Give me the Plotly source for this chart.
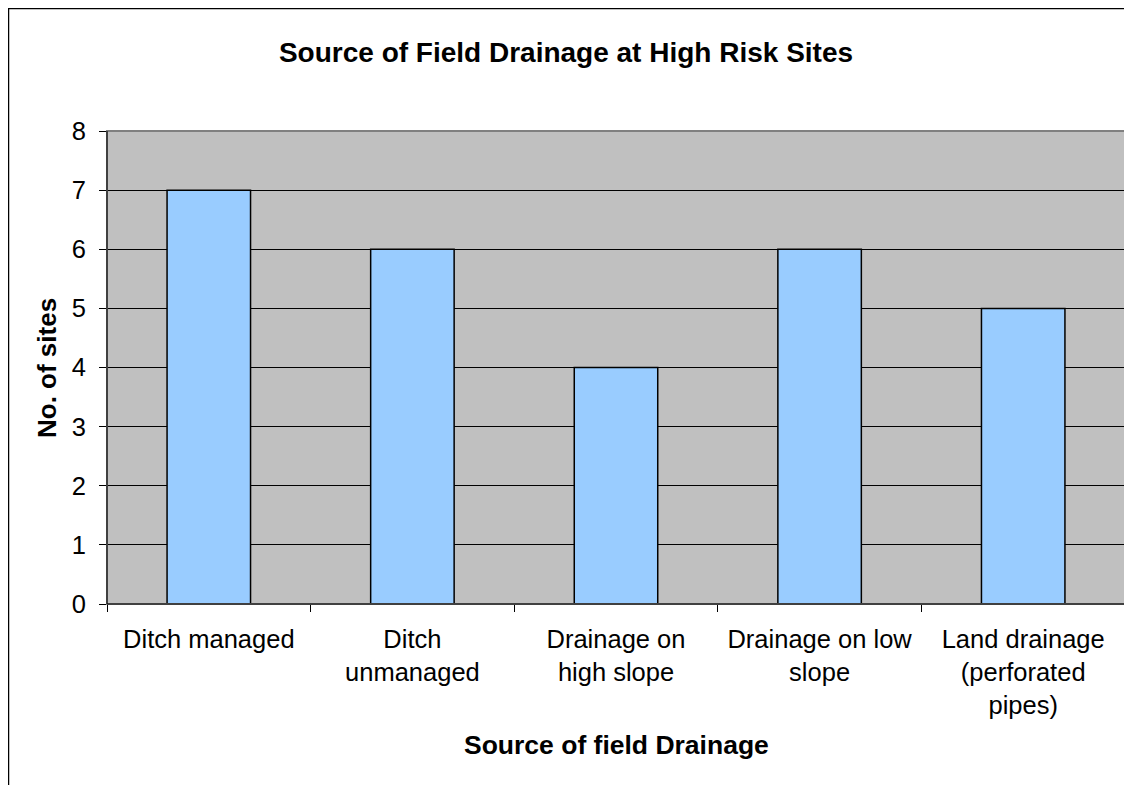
import plotly.graph_objects as go

categories = ["Ditch managed", "Ditch<br>unmanaged", "Drainage on<br>high slope",
              "Drainage on low<br>slope", "Land drainage<br>(perforated<br>pipes)"]
sites = [7, 6, 4, 6, 5]
y_ticks = [0, 1, 2, 3, 4, 5, 6, 7, 8]

OFF = 8  # page body margin
W, H = 1132 - OFF, 785 - OFF
# plot area in page pixels: left 107, right 1125, top 131, bottom 604
L, T = 107 - OFF, 131 - OFF
R = W - (1125 - OFF)
B = H - (604 - OFF)
pw, ph = W - L - R, H - T - B
FONT = "Liberation Sans, Arial, sans-serif"

def px_x(p):
    return (p - OFF - L) / pw

def px_y(p):
    return (H - B - (p - OFF)) / ph

fig = go.Figure(go.Bar(
    x=categories, y=sites, width=0.41,
    marker=dict(color="#99CCFF", line=dict(color="black", width=1.5)),
))

fig.update_layout(
    width=W, height=H,
    margin=dict(l=L, r=R, t=T, b=B),
    paper_bgcolor="white", plot_bgcolor="#C0C0C0",
    showlegend=False,
    font=dict(family=FONT, color="black", size=25.5),
    title=dict(text="<b>Source of Field Drainage at High Risk Sites</b>",
               x=(566 - OFF) / W, xref="container", xanchor="center",
               y=1 - (52 - OFF) / H, yref="container", yanchor="middle",
               font=dict(size=28, family=FONT, color="black")),
    xaxis=dict(showline=True, linecolor="black", linewidth=1,
               ticks="outside", ticklen=7, tickcolor="black", tickson="boundaries",
               showgrid=False, tickfont=dict(size=25.5), ticklabelstandoff=12),
    yaxis=dict(range=[0, 8], tickvals=y_ticks, showline=True, linecolor="black", linewidth=1,
               ticks="outside", ticklen=7, tickcolor="black",
               showgrid=True, gridcolor="black", gridwidth=1, zeroline=False,
               tickfont=dict(size=25.5), ticklabelstandoff=8),
)

fig.add_shape(type="rect", xref="paper", yref="paper", x0=0, x1=1, y0=0, y1=1,
              line=dict(color="#808080", width=2), layer="above")
fig.add_shape(type="rect", xref="paper", yref="paper",
              x0=px_x(8.5), x1=px_x(1160), y0=px_y(820), y1=px_y(8.5),
              line=dict(color="black", width=1.5), layer="above")
# black axis lines over the gray border
fig.add_shape(type="line", xref="paper", yref="paper", x0=0, x1=0, y0=0, y1=1,
              line=dict(color="black", width=1), layer="above")
fig.add_shape(type="line", xref="paper", yref="paper", x0=0, x1=1, y0=0, y1=0,
              line=dict(color="black", width=1), layer="above")

fig.add_annotation(text="<b>Source of field Drainage</b>", xref="paper", yref="paper",
                   x=px_x(616), y=px_y(745), showarrow=False, xanchor="center", yanchor="middle",
                   font=dict(size=26.5, family=FONT, color="black"))
fig.add_annotation(text="<b>No. of sites</b>", xref="paper", yref="paper",
                   x=px_x(47), y=px_y(368), showarrow=False, textangle=-90,
                   xanchor="center", yanchor="middle",
                   font=dict(size=26, family=FONT, color="black"))

fig.write_html("out.html")
